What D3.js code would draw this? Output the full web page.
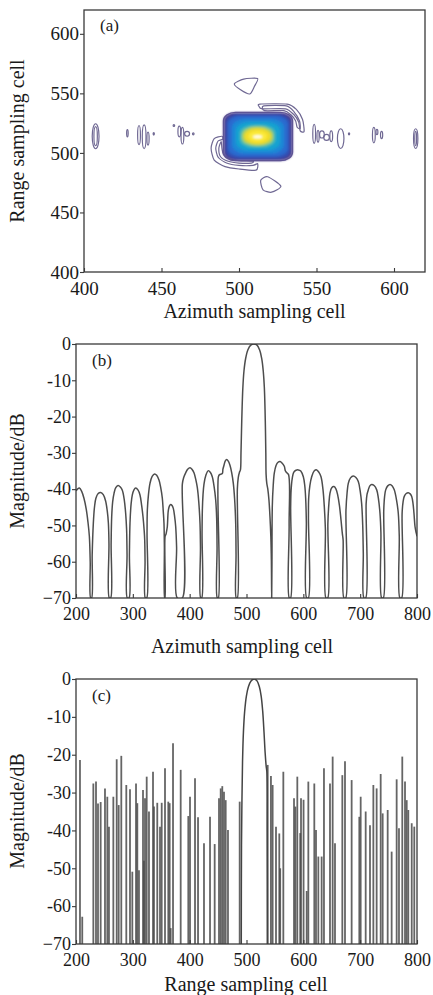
<!DOCTYPE html>
<html>
<head>
<meta charset="utf-8">
<script src="https://cdn.jsdelivr.net/npm/d3@7"></script>
<style>
body{margin:0;background:#fff;}
svg text{font-family:"Liberation Serif","Times New Roman",serif;fill:#1a1a1a;}
</style>
</head>
<body>
<div id="chart"></div>
<script>
// ---------- (a) contour map ----------
const mapTicks = [400, 450, 500, 550, 600];
// main lobe contour levels, outer -> inner (sampling cells)
const lobeX0 = [490, 491.5, 493, 495.5, 498, 500.5, 502, 503.5, 506, 509];
const lobeX1 = [534.5, 533, 531.5, 529, 526.5, 523.5, 522, 520.5, 518, 515];
const lobeY0 = [493.5, 495, 497, 499.5, 502, 504.5, 506, 507.5, 509.5, 512];
const lobeY1 = [534, 532.5, 531, 528.5, 526, 523.5, 522, 520.5, 518.5, 515];
// small side-lobe contours (ellipses)
const sideCx = [407.5, 407.5, 428, 435.5, 438.8, 441.3, 445, 458, 461.5, 463.5, 466.5, 470.5,
                548.5, 551, 553.5, 556.5, 559.5, 565.6, 571, 587, 589, 592, 614, 614];
const sideCy = [514, 514, 516.5, 515, 513.5, 512, 516, 523, 518, 514.5, 516, 516,
                516, 514, 515.5, 513, 514, 512, 516, 515, 517.5, 515, 512, 512];
const sideRx = [2.2, 1.1, 0.5, 0.9, 1.2, 0.7, 0.4, 0.5, 0.9, 0.9, 1.6, 0.5,
                0.9, 0.7, 1.5, 1.8, 0.9, 2.1, 0.4, 0.9, 0.6, 0.7, 1.4, 0.6];
const sideRy = [10.5, 8, 3, 8, 10, 5.5, 1, 0.8, 4.5, 7, 2, 0.8,
                8, 5, 3, 2.5, 4.5, 8.3, 0.8, 6.5, 2.2, 3, 8.3, 6];
const triTop = [[497, 558], [503, 562], [512, 562.5], [510, 556], [507, 549.5], [501, 553]];
const triBottom = [[514, 477], [518.5, 480], [527, 472], [521, 467], [515.5, 469]];
const bracketUR = [[513.5, 541], [531, 541], [537, 536.5], [541, 528], [542, 518], [539.5, 518.5],
                   [538.5, 526], [535.5, 532], [530, 537], [515, 537], [513, 539]];
const bracketURin = [[516, 539.5], [530.5, 539.5], [535.5, 534.5], [539, 527], [539.5, 520.5],
                     [537.5, 521.5], [536.5, 527], [533.5, 532], [529, 535.5], [516.5, 535.5]];
const bracketLL = [[489, 514], [484, 512], [482, 504], [484, 494], [491, 488.5], [500, 486.5],
                   [511, 485.5], [512, 491], [509, 489.5], [500, 489.5], [492, 491.5],
                   [486.5, 496.5], [485, 504], [486.5, 510], [489.5, 511.5]];
const bracketLLin = [[488.5, 509.5], [487, 504], [488, 497], [493, 493], [500, 491.5], [508, 491.5],
                     [509, 493], [500, 493.5], [494, 495], [490, 498.5], [489, 504]];

// ---------- (b) azimuth cut ----------
const dbTicks = [0, -10, -20, -30, -40, -50, -60, -70];
const dbLabels = ["0", "-10", "-20", "-30", "-40", "-50", "-60", "\u221270"];
const cellTicks = [200, 300, 400, 500, 600, 700, 800];
const azimuthCut = [
  [200,-40.5],[203,-39.9],[206,-39.7],[210,-40.6],[214,-42.5],[218,-45.5],[221,-49],[223.5,-53],[225,-60],[225.8,-70],
  [227.5,-70],[228.5,-58],[230.5,-49.4],[232.5,-45],[235,-42.5],[239,-41.2],[243.4,-40.9],[248,-41.5],[252,-43.2],[255,-46],[257,-49.4],[258,-55],[258.6,-70],
  [261,-70],[261.8,-55],[262.8,-47.6],[264.5,-43.5],[267,-41.1],[270,-39.6],[274,-39],[278,-39.4],[281.5,-40.3],[285,-43],[287.4,-46.7],[289,-51],[289.8,-58],[290.3,-70],
  [293.3,-70],[294,-58],[295,-49.4],[297,-44],[299.1,-41.6],[302,-40.2],[305,-39.7],[309,-40.2],[312.6,-41.6],[315.5,-44.5],[317.9,-47.6],[320,-51.5],[320.9,-54],[321.5,-60],[322,-70],
  [324.4,-70],[325,-52],[325.5,-45.9],[327.5,-41.5],[330.2,-38.4],[334,-36.5],[338.4,-35.8],[342,-36.2],[346,-37.5],[349,-39.5],[351.9,-42.5],[353.5,-46],[354.8,-49.4],[355.5,-56],[356,-70],
  [356.5,-70],[356.8,-53],[358,-52.6],[359.5,-51.5],[360.7,-50.3],[362.4,-45.9],[364.5,-44.6],[366.6,-44.2],[369,-44.5],[371.2,-45.3],[373.5,-47.5],[375.4,-50.3],[377,-56],[378.2,-70],
  [387,-70],[387.1,-38.6],[389.5,-36.8],[393,-35.5],[396.5,-34.5],[400.6,-34.1],[404,-34.5],[407.6,-35.5],[411,-37.5],[413.5,-39.6],[416,-43.5],[418.2,-49.4],[419,-56],[419.4,-70],
  [421.2,-70],[421.8,-52],[422.3,-45.9],[423.5,-41.5],[425.2,-38.6],[428.5,-36.2],[432.8,-34.9],[436.5,-35.4],[439.8,-36.6],[443,-39.3],[445.8,-43],[447.5,-48],[448.2,-56],[448.6,-70],
  [450.4,-70],[450.5,-36.6],[452.5,-36],[457.4,-35.7],[458.5,-34.5],[460.4,-33.4],[462.5,-32.3],[465.1,-31.8],[468,-32.3],[470.9,-33.4],[474,-35.5],[476.8,-38.4],[479,-42.5],[481,-49.4],[481.6,-58],[482,-70],
  [483.8,-70],[483.9,-40],[485.5,-36.8],[487.5,-35.4],[489.3,-34.7],[490.3,-30],[491.2,-24],[492.2,-18],[493.6,-12],[495.5,-7.5],[498.5,-4],[502.5,-1.6],[507.5,-0.3],[513,0],
  [518.5,-0.3],[523,-1.6],[526.8,-4],[529.5,-7.5],[531.4,-12],[532.6,-18],[533.4,-24],[534,-30],[534.5,-36],[535.7,-38.4],[537.5,-40],[539.5,-43],[541.3,-47.6],[542.8,-53],[543.8,-60],[544.3,-70],
  [544.8,-60],[545.4,-44.8],[547,-39],[548.9,-35.6],[552,-33.5],[555.5,-32.6],[559,-32.4],[562.5,-32.8],[566.5,-33.7],[568.5,-35],[571,-35.5],[574,-36],[575,-50],[575.3,-70],
  [577.5,-70],[577.7,-45],[578.5,-40.2],[580.5,-37],[583,-35.4],[587,-34.8],[591.2,-34.7],[595.5,-35],[600,-36.6],[602.5,-39],[604.1,-42.5],[605.3,-49],[605.9,-70],
  [608.8,-70],[609,-48],[609.4,-42.5],[611.5,-39],[614.7,-36.6],[619,-35],[623.5,-34.7],[627.5,-35.4],[631.1,-36.6],[634.5,-40],[636.9,-44.8],[638.8,-51],[639.9,-70],
  [642.9,-70],[643.2,-49.4],[645,-44],[646.9,-41.1],[650,-39.6],[653.9,-39.3],[657.5,-40],[660.4,-41.6],[663.5,-44.5],[666.3,-48.5],[668.6,-52.2],[670,-54],[671.5,-70],
  [674.5,-70],[675,-45.9],[677,-41],[679.1,-38.4],[683,-36.9],[687.9,-36.4],[692.5,-36.8],[696.7,-37.9],[700,-40.5],[702.6,-44],[704.5,-50],[705.5,-57.7],[706.7,-70],
  [709.7,-70],[710.5,-44],[712,-41.5],[714.3,-40.2],[717,-39.1],[720.3,-38.7],[724.5,-39],[729.1,-40.2],[732,-42.5],[734.9,-46.7],[736.5,-52],[737.9,-70],
  [740.7,-70],[741.5,-45.9],[743,-42],[744.9,-40.2],[748.5,-39.1],[752.5,-38.7],[756.5,-39.1],[760,-40.2],[764,-43],[767.1,-46.7],[768.8,-53],[770,-70],
  [773,-70],[773.8,-46.7],[775.5,-43.5],[777.6,-42],[781,-41.2],[784.7,-41],[788,-41.3],[790.7,-42],[793,-44],[794.7,-46.7],[796.5,-50.3],[798.5,-52],[800,-53]
];

// ---------- (c) range cut ----------
const rangeSpikeCells = [207, 211, 230.5, 235.2, 238.7, 243.4, 251, 255.1, 258, 265.7, 271.6, 275.1, 279.7,
  288.5, 295, 299.1, 305.6, 307.9, 310.8, 317.9, 319.5, 321.4, 324.4, 328.4, 335.5, 337.2, 343, 347.8, 350.8,
  356.6, 362.4, 364.8, 366.6, 370.7, 384.2, 397.6, 400.6, 409.4, 414.7, 425.2, 435.8, 444, 451.6, 454.6,
  457.4, 460.4, 463.4, 467.4, 488,
  537.3, 543, 546, 551.9, 557.7, 559.3, 564.8, 583.6, 586, 589.4, 594.5, 595.9, 600.4, 605.9, 608.8,
  619.3, 622.3, 626.4, 632.2, 636.3, 646.9, 651.6, 655.7, 668.6, 673.3, 685, 698.5, 700.9, 709.7, 717.3,
  723.2, 729, 736.1, 739.6, 748.4, 755.4, 764.2, 768.3, 774.1, 778.9, 781.9, 784.7, 790.7, 795.2];
const rangeSpikeDb = [-21.4, -62.8, -27.6, -27.1, -32.9, -32.5, -28.9, -31.1, -39, -31.1, -21.2, -33.3, -20.3,
  -28, -29.1, -50.9, -27.6, -32.8, -50.5, -29.3, -48, -31.5, -25.8, -35, -24.5, -33.7, -32.7, -39, -32.7,
  -23.6, -32.4, -32.8, -65.8, -17, -24, -36.2, -31.1, -26.2, -36.5, -43.4, -36.4, -43.6, -31.5, -28.9,
  -28.3, -29.8, -32, -39.9, -32.4,
  -22.7, -25.6, -28, -39, -40.8, -50, -24.5, -31.5, -33.7, -25.8, -40.7, -31.5, -31.9, -56, -27.1,
  -27.6, -39.9, -46.9, -46.9, -23.6, -27.6, -20.5, -43.4, -25.4, -21.7, -26.7, -36.4, -31.1, -35, -38.6,
  -28, -28.9, -25.1, -35.5, -34.6, -45.6, -26.5, -39.4, -20.5, -27.1, -32, -34.6, -38.1, -39];
const rangeMainLobe = [[490.8,-70],[491.2,-44],[492,-32],[493,-22],[494.6,-14],[496.8,-8.5],[499.8,-4.5],
  [503.5,-2],[508,-0.5],[513.5,0],[518.5,-0.5],[522.5,-2],[525.8,-4.5],[528.5,-8.5],[530.8,-14],
  [532.8,-19.5],[534.6,-23],[535.8,-24.5],[536.4,-40],[536.8,-70]];

// ---------- layout ----------
const W = 433, H = 995;
const svg = d3.select("#chart").append("svg").attr("width", W).attr("height", H);
const ink = "#3a3a3a";

function drawAxes(x, y, xt, yt, ylab, fs, xpad) {
  const ax = svg.append("g").attr("transform", "translate(0," + y.range()[0] + ")")
    .call(d3.axisBottom(x).tickValues(xt).tickSize(-4).tickPadding(xpad).tickFormat(d3.format("d")));
  const ay = svg.append("g").attr("transform", "translate(" + x.range()[0] + ",0)")
    .call(d3.axisLeft(y).tickValues(yt).tickSize(4).tickPadding(1).tickFormat((d, i) => ylab[i]));
  [ax, ay].forEach(a => {
    a.select(".domain").remove();
    a.selectAll("line").attr("stroke", ink).attr("stroke-width", 1.1);
    a.selectAll("text").attr("font-size", fs).attr("fill", "#1a1a1a");
  });
  svg.append("rect")
    .attr("x", x.range()[0]).attr("y", y.range()[1])
    .attr("width", x.range()[1] - x.range()[0]).attr("height", y.range()[0] - y.range()[1])
    .attr("fill", "none").attr("stroke", ink).attr("stroke-width", 1.3);
}

function titles(xt, xx, xy, yt, yx, yy, tag, tx, ty) {
  svg.append("text").attr("x", xx).attr("y", xy).attr("text-anchor", "middle")
    .attr("font-size", 20).text(xt);
  svg.append("text").attr("transform", "translate(" + yx + "," + yy + ") rotate(-90)")
    .attr("text-anchor", "middle").attr("font-size", 20).text(yt);
  svg.append("text").attr("x", tx).attr("y", ty).attr("font-size", 17).text(tag);
}

function clipFor(id, x, y) {
  svg.append("clipPath").attr("id", id).append("rect")
    .attr("x", x.range()[0]).attr("y", y.range()[1])
    .attr("width", x.range()[1] - x.range()[0]).attr("height", y.range()[0] - y.range()[1]);
  return "url(#" + id + ")";
}

// ---------- panel (a) ----------
const xa = d3.scaleLinear().domain([400, 620]).range([84, 425]);
const ya = d3.scaleLinear().domain([400, 620]).range([272, 10]);

const defs = svg.append("defs");
defs.append("filter").attr("id", "soft").append("feGaussianBlur").attr("stdDeviation", 0.9);

const lobeColors = ["#4a3d8f", "#3350b4", "#2a6bcf", "#1c88d6", "#17a2d0", "#4dbcae",
                    "#b5d152", "#f1dc2b", "#fbea3a", "#fffbe6"];
const corner = [0.35, 0.38, 0.42, 0.5, 0.62, 0.78, 0.88, 0.96, 1, 1];

const ga = svg.append("g").attr("clip-path", clipFor("clipA", xa, ya));
const contourColor = "#6f6893";

ga.append("g").selectAll("ellipse").data(sideCx).enter().append("ellipse")
  .attr("cx", d => xa(d))
  .attr("cy", (d, i) => ya(sideCy[i]))
  .attr("rx", (d, i) => xa(d + sideRx[i]) - xa(d))
  .attr("ry", (d, i) => ya(sideCy[i]) - ya(sideCy[i] + sideRy[i]))
  .attr("fill", "none").attr("stroke", contourColor).attr("stroke-width", 1.2);

const loop = d3.line().x(d => xa(d[0])).y(d => ya(d[1])).curve(d3.curveCardinalClosed.tension(0.3));
ga.append("g").selectAll("path").data([triTop, triBottom, bracketUR, bracketURin, bracketLL, bracketLLin])
  .enter().append("path")
  .attr("d", loop)
  .attr("fill", "none").attr("stroke", contourColor).attr("stroke-width", 1.2);

const blob = ga.append("g").attr("filter", "url(#soft)");
blob.selectAll("rect").data(lobeX0).enter().append("rect")
  .attr("x", d => xa(d))
  .attr("y", (d, i) => ya(lobeY1[i]))
  .attr("width", (d, i) => xa(lobeX1[i]) - xa(d))
  .attr("height", (d, i) => ya(lobeY0[i]) - ya(lobeY1[i]))
  .attr("rx", (d, i) => corner[i] * (xa(lobeX1[i]) - xa(d)) / 2)
  .attr("ry", (d, i) => corner[i] * (ya(lobeY0[i]) - ya(lobeY1[i])) / 2)
  .attr("fill", (d, i) => lobeColors[i]);
ga.append("rect")
  .attr("x", xa(lobeX0[0])).attr("y", ya(lobeY1[0]))
  .attr("width", xa(lobeX1[0]) - xa(lobeX0[0])).attr("height", ya(lobeY0[0]) - ya(lobeY1[0]))
  .attr("rx", corner[0] * (xa(lobeX1[0]) - xa(lobeX0[0])) / 2)
  .attr("ry", corner[0] * (ya(lobeY0[0]) - ya(lobeY1[0])) / 2)
  .attr("fill", "none").attr("stroke", "#5e5494").attr("stroke-width", 1.4);

drawAxes(xa, ya, mapTicks, mapTicks, mapTicks.map(String), 19, 10);
titles("Azimuth sampling cell", 254.5, 318, "Range sampling cell", 24, 141, "(a)", 100, 31);

// ---------- panel (b) ----------
const xb = d3.scaleLinear().domain([200, 800]).range([76, 417]);
const yb = d3.scaleLinear().domain([-70, 0]).range([598, 344]);
svg.append("path").datum(azimuthCut)
  .attr("clip-path", clipFor("clipB", xb, yb))
  .attr("d", d3.line().x(d => xb(d[0])).y(d => yb(d[1])).curve(d3.curveCatmullRom.alpha(0.5)))
  .attr("fill", "none").attr("stroke", "#4d4d4d").attr("stroke-width", 1.5);
drawAxes(xb, yb, cellTicks, dbTicks, dbLabels, 18, 9);
titles("Azimuth sampling cell", 242, 653, "Magnitude/dB", 24, 471, "(b)", 92, 366);

// ---------- panel (c) ----------
const xc = d3.scaleLinear().domain([200, 800]).range([76, 417]);
const yc = d3.scaleLinear().domain([-70, 0]).range([944, 679]);
const gc = svg.append("g").attr("clip-path", clipFor("clipC", xc, yc));
gc.selectAll("line").data(rangeSpikeCells).enter().append("line")
  .attr("x1", d => xc(d)).attr("x2", d => xc(d))
  .attr("y1", yc(-70)).attr("y2", (d, i) => yc(rangeSpikeDb[i]))
  .attr("stroke", "#4a4a4a").attr("stroke-opacity", 0.85).attr("stroke-width", 1.8);
gc.append("path").datum(rangeMainLobe)
  .attr("d", d3.line().x(d => xc(d[0])).y(d => yc(d[1])).curve(d3.curveCatmullRom.alpha(0.5)))
  .attr("fill", "none").attr("stroke", "#444").attr("stroke-width", 1.5);
drawAxes(xc, yc, cellTicks, dbTicks, dbLabels, 18, 9);
titles("Range sampling cell", 246, 991, "Magnitude/dB", 24, 811, "(c)", 92, 701);
</script>
</body>
</html>
